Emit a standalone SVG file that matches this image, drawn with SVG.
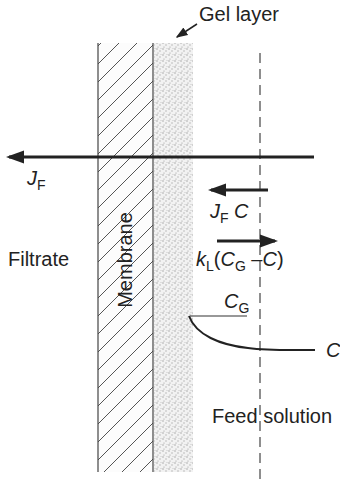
<svg xmlns="http://www.w3.org/2000/svg" width="340" height="481" viewBox="0 0 340 481">
<style>
text{font-family:"Liberation Sans",Arial,sans-serif;font-size:20px;fill:#222}
.it{font-style:italic}
.sub{font-size:14px;font-style:normal}
.thick{stroke:#222;stroke-width:3;fill:none}
</style>
<defs>
<pattern id="hatch" patternUnits="userSpaceOnUse" width="18" height="18">
<rect width="18" height="18" fill="#fcfcfc"/>
<path d="M-2,20 L20,-2 M-2,2 L2,-2 M16,20 L20,16" stroke="#555" stroke-width="1"/>
</pattern>
<pattern id="dots" patternUnits="userSpaceOnUse" width="6" height="6">
<rect width="6" height="6" fill="#f2f2f2"/>
<circle cx="1" cy="1" r="0.7" fill="#999"/>
<circle cx="4" cy="3" r="0.7" fill="#aaa"/>
<circle cx="2" cy="5" r="0.6" fill="#999"/>
<circle cx="5" cy="0.5" r="0.5" fill="#bbb"/>
</pattern>
<marker id="ah" markerWidth="6" markerHeight="4.4" refX="5" refY="2.2" orient="auto" markerUnits="strokeWidth">
<path d="M0,0 L6,2.2 L0,4.4 Z" fill="#222"/>
</marker>
<marker id="ahs" markerWidth="8" markerHeight="6" refX="7" refY="3" orient="auto" markerUnits="strokeWidth">
<path d="M0,0 L8,3 L0,6 Z" fill="#222"/>
</marker>
</defs>
<g id="membrane">
<rect x="98" y="43" width="55" height="429" fill="url(#hatch)"/>
<line x1="98" y1="43" x2="98" y2="472" stroke="#444" stroke-width="1.2"/>
<line x1="153" y1="43" x2="153" y2="472" stroke="#444" stroke-width="1.2"/>
<text x="0" y="0" transform="translate(132,260) rotate(-90)" text-anchor="middle">Membrane</text>
</g>
<g id="gel">
<rect x="154" y="43" width="39" height="429" fill="url(#dots)"/>
</g>
<g id="boundary">
<line x1="260" y1="53" x2="260" y2="481" stroke="#444" stroke-width="1.2" stroke-dasharray="10,6"/>
</g>
<g id="connectors">
<line x1="314" y1="157" x2="9" y2="157" class="thick" marker-end="url(#ah)"/>
<line x1="268" y1="190" x2="211" y2="190" class="thick" marker-end="url(#ah)"/>
<line x1="217" y1="241" x2="275" y2="241" class="thick" marker-end="url(#ah)"/>
<line x1="197" y1="24" x2="177" y2="37" stroke="#222" stroke-width="1.5" marker-end="url(#ahs)"/>
<line x1="190" y1="316" x2="247" y2="316" stroke="#333" stroke-width="1.2"/>
<path d="M189,316 C196,335 220,345 248,348 C270,351 295,350 315,350" fill="none" stroke="#222" stroke-width="2"/>
</g>
<g id="labels">
<text x="199" y="21">Gel layer</text>
<text x="27" y="185" class="it">J<tspan class="sub" dy="5">F</tspan></text>
<text x="210" y="218"><tspan class="it">J</tspan><tspan class="sub" dy="5">F</tspan><tspan dy="-5" class="it"> C</tspan></text>
<text x="196" y="266"><tspan class="it">k</tspan><tspan class="sub" dy="5">L</tspan><tspan dy="-5">(</tspan><tspan class="it">C</tspan><tspan class="sub" dy="5">G</tspan><tspan dy="-5"> –</tspan><tspan class="it">C</tspan>)</text>
<text x="224" y="308" class="it">C<tspan class="sub" dy="5">G</tspan></text>
<text x="326" y="357" class="it">C</text>
<text x="8" y="266">Filtrate</text>
<text x="212" y="423">Feed solution</text>
</g>
</svg>
